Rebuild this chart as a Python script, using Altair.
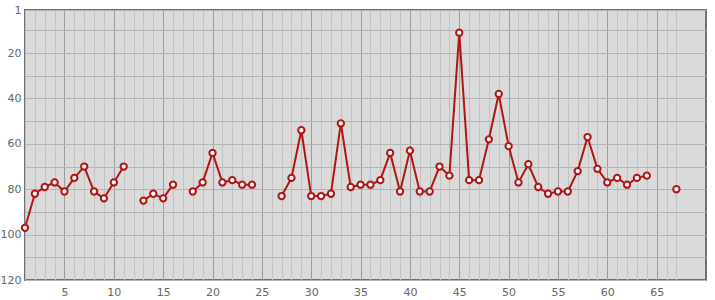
import altair as alt
import pandas as pd

x_values = list(range(1, 68))
y_values = [97, 82, 79, 77, 81, 75, 70, 81, 84, 77, 70, None, 85, 82, 84, 78, None,
            81, 77, 64, 77, 76, 78, 78, None, None, 83, 75, 54, 83, 83, 82, 51, 79,
            78, 78, 76, 64, 81, 63, 81, 81, 70, 74, 11, 76, 76, 58, 38, 61, 77, 69,
            79, 82, 81, 81, 72, 57, 71, 77, 75, 78, 75, 74, None, None, 80]
y_ticks = [1, 10, 20, 30, 40, 50, 60, 70, 80, 90, 100, 110, 120]
x_grid = list(range(1, 68))

seg = []
s = 0
for v in y_values:
    if v is None:
        s += 1
    seg.append(s)
df = pd.DataFrame({"x": x_values, "y": y_values, "seg": seg}).dropna()

RED = "#b01515"

x_enc = alt.X("x:Q", scale=alt.Scale(domain=[1, 70], nice=False, zero=False),
              axis=alt.Axis(values=x_grid, title=None, ticks=False, domain=False,
                            labelExpr="datum.value % 5 === 0 ? datum.label : ''",
                            labelOverlap=False,
                            labelColor="#666666", labelFont="DejaVu Sans", labelFontSize=11,
                            labelPadding=6,
                            gridColor={"condition": {"test": "datum.value % 5 === 0", "value": "#9c9c9c"},
                                       "value": "#c2c2c2"},
                            gridWidth=1))
y_enc = alt.Y("y:Q", scale=alt.Scale(domain=[1, 120], reverse=True, nice=False, zero=False),
              axis=alt.Axis(values=y_ticks, title=None, ticks=False, domain=False,
                            labelExpr="(datum.value === 1 || datum.value % 20 === 0) ? datum.label : ''",
                            labelOverlap=False,
                            labelColor="#666666", labelFont="DejaVu Sans", labelFontSize=11,
                            labelPadding=4, gridColor="#b4b4b4", gridWidth=1))

base = alt.Chart(df).encode(x=x_enc, y=y_enc)
line = base.mark_line(color=RED, strokeWidth=2).encode(detail="seg:N")
pts = base.mark_point(filled=False, fill="white", fillOpacity=1, color=RED, strokeWidth=2,
                      size=40, opacity=1)

chart = alt.layer(line, pts).properties(
    width=681, height=270,
    autosize="none",
    padding={"left": 25, "top": 10, "right": 9, "bottom": 20},
    view=alt.ViewBackground(fill="#dadada", stroke="#707070", strokeWidth=2),
).configure(background="white")

chart.save("out.html", embed_options={"renderer": "svg", "actions": False})
